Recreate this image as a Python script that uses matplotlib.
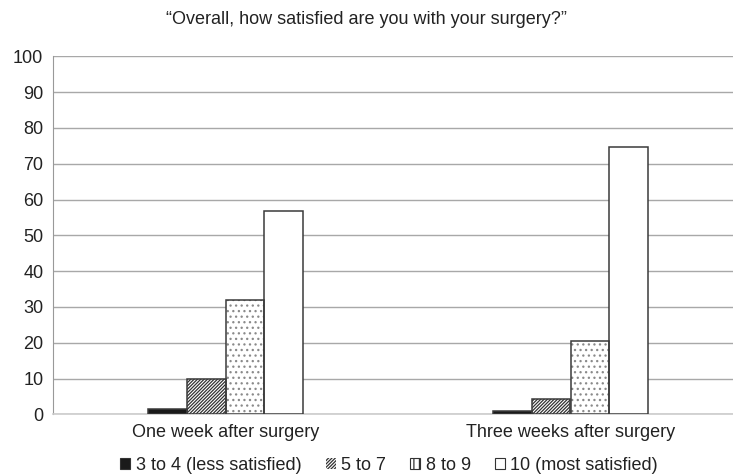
import numpy as np
import matplotlib.pyplot as plt
from matplotlib.patches import Patch

plt.rcParams['font.family'] = ['Liberation Sans', 'DejaVu Sans']
plt.rcParams['hatch.linewidth'] = 0.9

# survey answers, percent of patients
groups = ['One week after surgery', 'Three weeks after surgery']
labels = ['3 to 4 (less satisfied)', '5 to 7', '8 to 9', '10 (most satisfied)']
vals_34 = [1.4, 0.8]
vals_57 = [10.0, 4.4]
vals_89 = [31.8, 20.6]
vals_10 = [56.8, 74.6]
yticks = list(range(0, 101, 10))

fig = plt.figure(figsize=(7.33, 4.75), dpi=100)
ax = fig.add_axes([53 / 733, 1 - 414.3 / 475, 690 / 733, 358 / 475])

series = [vals_34, vals_57, vals_89, vals_10]
faces = ['#1a1a1a', 'white', 'white', 'white']
hatches = [None, '//////////', '...', None]
hatch_cols = ['#1a1a1a', '#333333', '#8a8a8a', 'white']
leg_hatch = [None, '//////////', '|||', None]
w = 0.112
x = np.arange(len(groups))
handles = []
for i, s in enumerate(series):
    pos = x + (i - 1.5) * w
    # fill + hatch first, then a crisp outline on top
    ax.bar(pos, s, w, color=faces[i], edgecolor=hatch_cols[i], hatch=hatches[i],
           linewidth=0, zorder=3)
    ax.bar(pos, s, w, fill=False, edgecolor='#3a3a3a', linewidth=1.1, zorder=4)
    handles.append(Patch(facecolor=faces[i], edgecolor='#333333', hatch=leg_hatch[i],
                         linewidth=0.8 if i != 1 else 0, label=labels[i]))

ax.set_xlim(-0.5, 1.5)
ax.set_ylim(0, 100)
ax.set_yticks(yticks)
ax.set_xticks(x)
ax.set_xticklabels(groups, fontsize=13, color='#222222')
ax.tick_params(axis='y', length=0, pad=7, labelsize=13, labelcolor='#222222')
ax.tick_params(axis='x', length=0, pad=7)
ax.yaxis.grid(True, color='#a8a8a8', linewidth=1.0, zorder=0)
ax.set_axisbelow(True)
for side in ['top', 'right']:
    ax.spines[side].set_visible(False)
ax.spines['left'].set_color('#999999')
ax.spines['bottom'].set_color('#cccccc')
ax.spines['bottom'].set_linewidth(1.2)

fig.text(0.5, 1 - 19 / 475, '\u201cOverall, how satisfied are you with your surgery?\u201d',
         ha='center', va='center', fontsize=13, color='#222222')

fig.legend(handles=handles, loc='center', bbox_to_anchor=(0.531, 1 - 465 / 475),
           ncol=4, frameon=False, fontsize=13, handlelength=0.55, handleheight=0.55,
           handletextpad=0.3, columnspacing=1.35, labelcolor='#222222')

fig.savefig('out.png', dpi=100)
